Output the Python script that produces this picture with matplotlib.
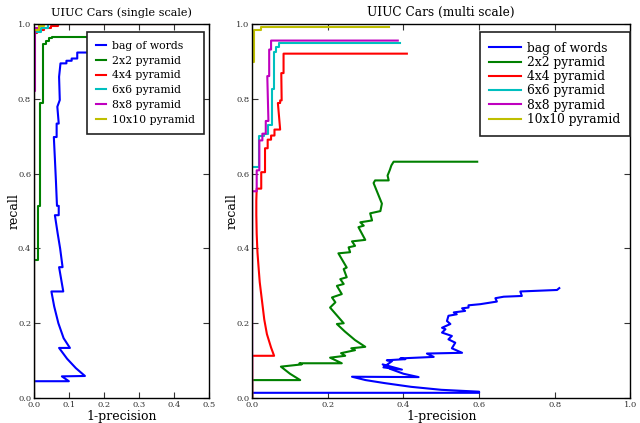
import matplotlib
matplotlib.use('Agg')
import matplotlib.pyplot as plt

plt.rcParams['font.family'] = 'DejaVu Serif'

labels = ['bag of words', '2x2 pyramid', '4x4 pyramid', '6x6 pyramid',
          '8x8 pyramid', '10x10 pyramid']
colors = ['#0000ff', '#008000', '#ff0000', '#00bfbf', '#bf00bf', '#bfbf00']

# ---- single scale (x = 1-precision, y = recall)
bow_s_x = [0, 0, 0.1, 0.08, 0.146, 0.12, 0.095, 0.072, 0.103, 0.085, 0.07, 0.058,
           0.05, 0.084, 0.072, 0.082, 0.075, 0.068, 0.06, 0.071, 0.071, 0.066,
           0.063, 0.06, 0.057, 0.065, 0.065, 0.071, 0.067, 0.074, 0.072, 0.076,
           0.093, 0.093, 0.108, 0.108, 0.124, 0.124, 0.22]
bow_s_y = [0, 0.045, 0.045, 0.058, 0.059, 0.08, 0.105, 0.134, 0.134, 0.16, 0.2, 0.245,
           0.285, 0.285, 0.35, 0.35, 0.40, 0.44, 0.489, 0.489, 0.514, 0.514,
           0.58, 0.64, 0.698, 0.698, 0.734, 0.734, 0.779, 0.797, 0.859, 0.895,
           0.895, 0.902, 0.902, 0.908, 0.908, 0.924, 0.924]
p2_s_x = [0, 0, 0.011, 0.011, 0.017, 0.017, 0.025, 0.025, 0.034, 0.034, 0.044,
          0.044, 0.053, 0.053, 0.3]
p2_s_y = [0, 0.368, 0.368, 0.513, 0.513, 0.79, 0.79, 0.948, 0.948, 0.955, 0.955,
          0.962, 0.962, 0.966, 0.966]
p4_s_x = [0, 0, 0.01, 0.01, 0.03, 0.03, 0.05, 0.05, 0.07, 0.07, 0.415]
p4_s_y = [0, 0.975, 0.975, 0.985, 0.985, 0.99, 0.99, 0.995, 0.995, 1.0, 1.0]
p6_s_x = [0, 0, 0.02, 0.02, 0.04, 0.04, 0.41]
p6_s_y = [0, 0.98, 0.98, 0.99, 0.99, 1.0, 1.0]
p8_s_x = [0, 0, 0.003, 0.003, 0.015, 0.015, 0.40]
p8_s_y = [0, 0.82, 0.82, 0.99, 0.99, 1.0, 1.0]
p10_s_x = [0, 0, 0.015, 0.015, 0.03, 0.03, 0.39]
p10_s_y = [0, 0.985, 0.985, 0.995, 0.995, 1.0, 1.0]

# ---- multi scale
bow_m_x = [0, 0.6, 0.6, 0.5, 0.42, 0.35, 0.30, 0.264, 0.44, 0.40, 0.365, 0.345,
           0.396, 0.347, 0.37, 0.356, 0.405, 0.392, 0.48, 0.462, 0.555, 0.528,
           0.537, 0.519, 0.528, 0.502, 0.511, 0.502, 0.524, 0.515, 0.519, 0.541,
           0.533, 0.563, 0.555, 0.572, 0.572, 0.603, 0.647, 0.643, 0.665, 0.713,
           0.709, 0.806, 0.812]
bow_m_y = [0.014, 0.014, 0.017, 0.022, 0.03, 0.04, 0.048, 0.057, 0.056, 0.065,
           0.078, 0.09, 0.076, 0.082, 0.099, 0.101, 0.104, 0.106, 0.11, 0.119,
           0.121, 0.133, 0.148, 0.157, 0.166, 0.175, 0.184, 0.188, 0.198, 0.206,
           0.22, 0.224, 0.229, 0.233, 0.24, 0.242, 0.248, 0.251, 0.258, 0.267,
           0.271, 0.273, 0.285, 0.289, 0.294]
p2_m_x = [0, 0, 0.127, 0.1, 0.076, 0.131, 0.125, 0.237, 0.206, 0.246, 0.235, 0.272,
          0.262, 0.299, 0.272, 0.245, 0.224, 0.242, 0.206, 0.22, 0.211, 0.237,
          0.224, 0.242, 0.233, 0.25, 0.242, 0.25, 0.228, 0.259, 0.255, 0.272,
          0.264, 0.299, 0.281, 0.295, 0.286, 0.317, 0.312, 0.339, 0.343, 0.321,
          0.325, 0.361, 0.358, 0.364, 0.368, 0.374, 0.595]
p2_m_y = [0, 0.048, 0.048, 0.065, 0.084, 0.09, 0.093, 0.093, 0.108, 0.113, 0.12,
          0.128, 0.133, 0.137, 0.155, 0.178, 0.198, 0.2, 0.242, 0.256, 0.269,
          0.278, 0.3, 0.305, 0.318, 0.323, 0.345, 0.349, 0.387, 0.39, 0.403,
          0.407, 0.419, 0.423, 0.457, 0.461, 0.47, 0.475, 0.494, 0.5, 0.52, 0.575,
          0.582, 0.582, 0.595, 0.61, 0.622, 0.632, 0.632]
p4_m_x = [0, 0, 0.058, 0.05, 0.039, 0.032, 0.026, 0.02, 0.017, 0.014, 0.012, 0.011,
          0.011, 0.012, 0.024, 0.024, 0.034, 0.034, 0.041, 0.041, 0.05, 0.05,
          0.059, 0.059, 0.074, 0.068, 0.074, 0.074, 0.078, 0.077, 0.083, 0.083,
          0.409]
p4_m_y = [0, 0.113, 0.113, 0.135, 0.171, 0.21, 0.26, 0.31, 0.349, 0.39, 0.439,
          0.49, 0.528, 0.56, 0.56, 0.604, 0.604, 0.668, 0.668, 0.691, 0.691, 0.702,
          0.702, 0.718, 0.718, 0.789, 0.789, 0.796, 0.796, 0.869, 0.869, 0.921,
          0.921]
p6_m_x = [0, 0, 0.017, 0.017, 0.03, 0.03, 0.043, 0.043, 0.052, 0.052, 0.057, 0.057,
          0.063, 0.063, 0.07, 0.07, 0.39]
p6_m_y = [0, 0.617, 0.617, 0.70, 0.70, 0.707, 0.707, 0.73, 0.73, 0.827, 0.827,
          0.925, 0.925, 0.94, 0.94, 0.95, 0.95]
p8_m_x = [0, 0, 0.012, 0.012, 0.019, 0.019, 0.027, 0.027, 0.036, 0.036, 0.043,
          0.04, 0.045, 0.045, 0.05, 0.05, 0.385]
p8_m_y = [0, 0.553, 0.553, 0.609, 0.609, 0.689, 0.689, 0.707, 0.707, 0.741, 0.741,
          0.861, 0.861, 0.932, 0.932, 0.956, 0.956]
p10_m_x = [0, 0, 0.005, 0.005, 0.024, 0.024, 0.362]
p10_m_y = [0, 0.899, 0.899, 0.984, 0.984, 0.993, 0.993]

single = [(bow_s_x, bow_s_y), (p2_s_x, p2_s_y), (p4_s_x, p4_s_y),
          (p6_s_x, p6_s_y), (p8_s_x, p8_s_y), (p10_s_x, p10_s_y)]
multi = [(bow_m_x, bow_m_y), (p2_m_x, p2_m_y), (p4_m_x, p4_m_y),
         (p6_m_x, p6_m_y), (p8_m_x, p8_m_y), (p10_m_x, p10_m_y)]

fig = plt.figure(figsize=(6.4, 4.23), dpi=100)
ax1 = fig.add_axes([0.053, 0.059, 0.273, 0.884])
ax2 = fig.add_axes([0.394, 0.059, 0.591, 0.884])


def setup(ax, curves, title, xmax, xticks, fs, legfs, handlelen, lspace, anchor):
    for (xs, ys), c, lab in zip(curves, colors, labels):
        ax.plot(xs, ys, color=c, lw=1.5, label=lab)
    ax.set_xlim(0, xmax)
    ax.set_ylim(0, 1.0)
    ax.set_xticks(xticks)
    ax.set_yticks([0, 0.2, 0.4, 0.6, 0.8, 1.0])
    ax.set_xticklabels(['%.1f' % t for t in xticks])
    ax.set_yticklabels(['%.1f' % t for t in [0, 0.2, 0.4, 0.6, 0.8, 1.0]])
    ax.tick_params(direction='in', top=True, right=True, length=4, width=0.8,
                   labelsize=6, pad=2, colors='#333333')
    for sp in ax.spines.values():
        sp.set_linewidth(1.0)
    ax.set_title(title, fontsize=fs, pad=6)
    ax.set_xlabel('1-precision', fontsize=9, labelpad=1)
    ax.set_ylabel('recall', fontsize=9, labelpad=-2)
    leg = ax.legend(loc='upper right', bbox_to_anchor=anchor, fontsize=legfs,
                    handlelength=handlelen, handletextpad=0.5,
                    labelspacing=lspace, borderpad=0.8, fancybox=False,
                    framealpha=1, edgecolor='#222222', borderaxespad=0)
    leg.get_frame().set_linewidth(1.2)


setup(ax1, single, 'UIUC Cars (single scale)', 0.5,
      [0, 0.1, 0.2, 0.3, 0.4, 0.5], 8.1, 7.8, 1.0, 0.45, (0.971, 0.979))
setup(ax2, multi, 'UIUC Cars (multi scale)', 1.0,
      [0, 0.2, 0.4, 0.6, 0.8, 1.0], 8.7, 8.8, 2.6, 0.1, (1.0, 0.979))

fig.savefig('out.png', dpi=100)
